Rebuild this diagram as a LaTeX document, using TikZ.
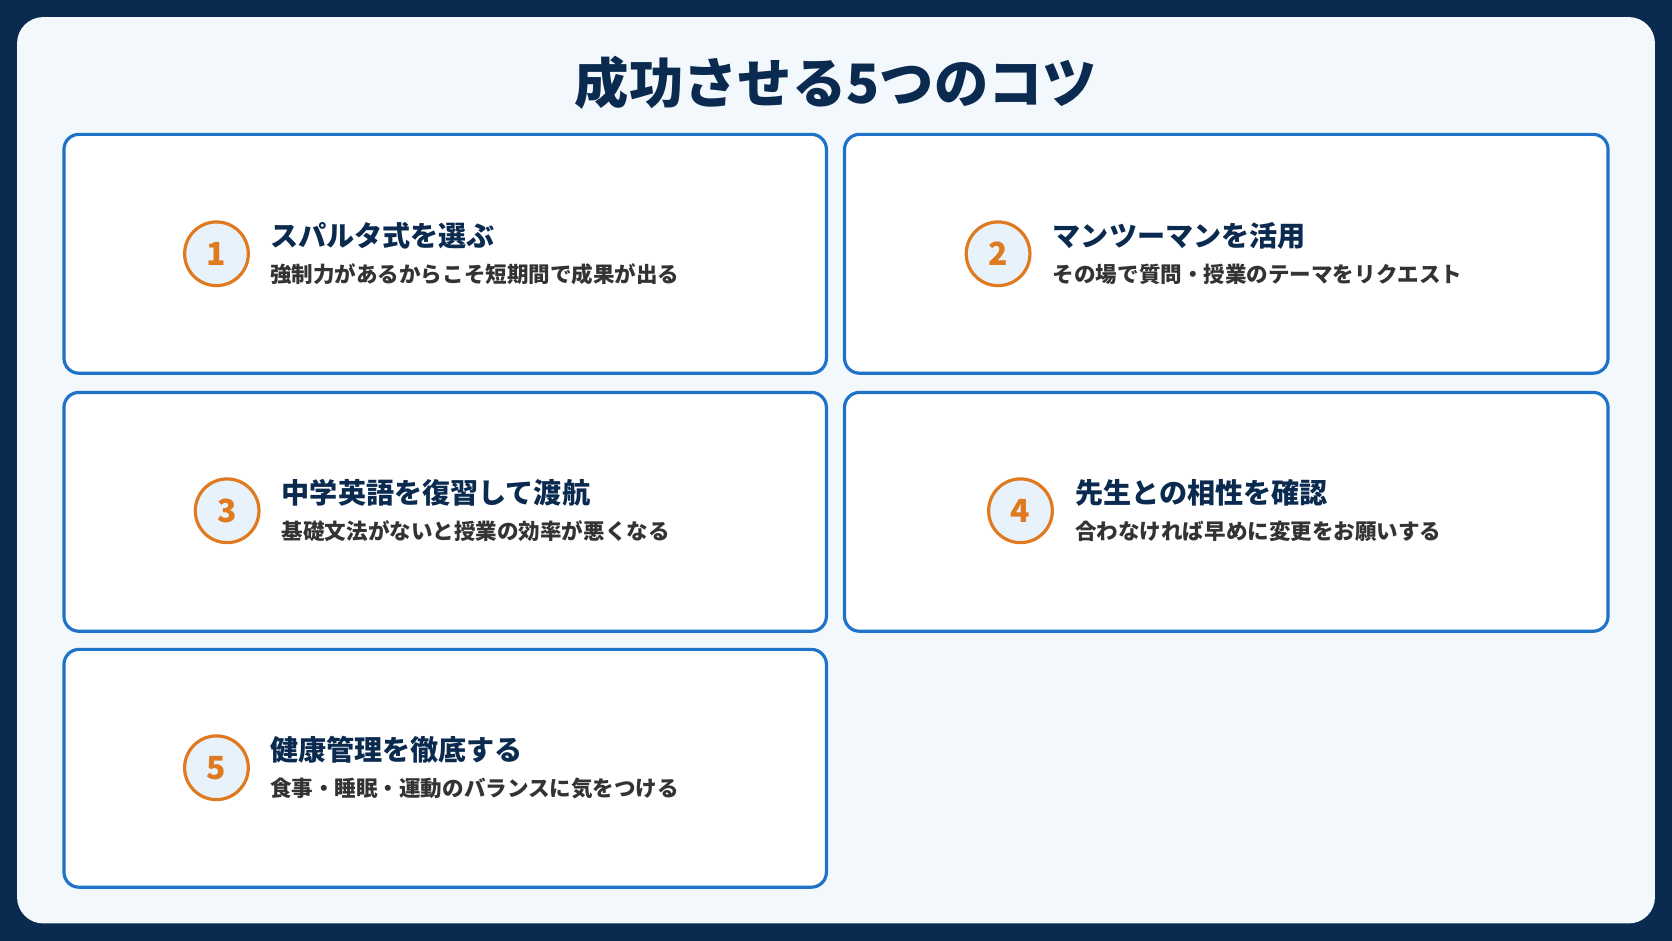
\documentclass[tikz,border=0pt]{standalone}
\usepackage{fontspec}
\setmainfont{Noto Sans CJK JP}
\usetikzlibrary{positioning}
\definecolor{navy}{HTML}{0B2A4F}
\definecolor{panel}{HTML}{F3F8FC}
\definecolor{cardline}{HTML}{1E73C8}
\definecolor{badge}{HTML}{E07A20}
\definecolor{badgefill}{HTML}{E8F2FB}
\definecolor{subtext}{HTML}{333333}
\tikzset{
    card/.style = {
        draw=cardline,
        fill=white,
        line width=1.7pt,
        rounded corners=8pt
    },
    badge/.style = {
        draw=badge,
        fill=badgefill,
        circle,
        line width=1.7pt,
        minimum size=34pt,
        inner sep=0pt,
        text=badge,
        font=\fontsize{17}{17}\selectfont\bfseries
    },
    head/.style = {
        anchor=west,
        inner sep=0pt,
        text=navy,
        font=\fontsize{15}{15}\selectfont\bfseries
    },
    sub/.style = {
        anchor=west,
        inner sep=0pt,
        text=subtext,
        font=\fontsize{11.5}{11.5}\selectfont\bfseries
    },
}
\begin{document}
\begin{tikzpicture}[x=0.02cm,y=-0.02cm]
    \fill[navy] (0,0) rectangle (1568,882);
    \fill[panel, rounded corners=14pt] (16,16) rectangle (1552,866);
    \node[text=navy, font=\fontsize{29}{29}\selectfont\bfseries] (title) at (784,78) {成功させる5つのコツ};

    \draw[card] (60,126) rectangle (775,350);
    \draw[card] (792,126) rectangle (1508,350);
    \draw[card] (60,368) rectangle (775,592);
    \draw[card] (792,368) rectangle (1508,592);
    \draw[card] (60,609) rectangle (775,832);

    \node[badge] (b1) at (203,238) {1};
    \node[head] (h1) at (253,221) {スパルタ式を選ぶ};
    \node[sub] (s1) at (253,257) {強制力があるからこそ短期間で成果が出る};

    \node[badge] (b2) at (936,238) {2};
    \node[head] (h2) at (987,221) {マンツーマンを活用};
    \node[sub] (s2) at (987,257) {その場で質問・授業のテーマをリクエスト};

    \node[badge] (b3) at (213,479) {3};
    \node[head] (h3) at (264,462) {中学英語を復習して渡航};
    \node[sub] (s3) at (264,498) {基礎文法がないと授業の効率が悪くなる};

    \node[badge] (b4) at (957,479) {4};
    \node[head] (h4) at (1008,462) {先生との相性を確認};
    \node[sub] (s4) at (1008,498) {合わなければ早めに変更をお願いする};

    \node[badge] (b5) at (203,720) {5};
    \node[head] (h5) at (253,703) {健康管理を徹底する};
    \node[sub] (s5) at (253,739) {食事・睡眠・運動のバランスに気をつける};
\end{tikzpicture}
\end{document}
